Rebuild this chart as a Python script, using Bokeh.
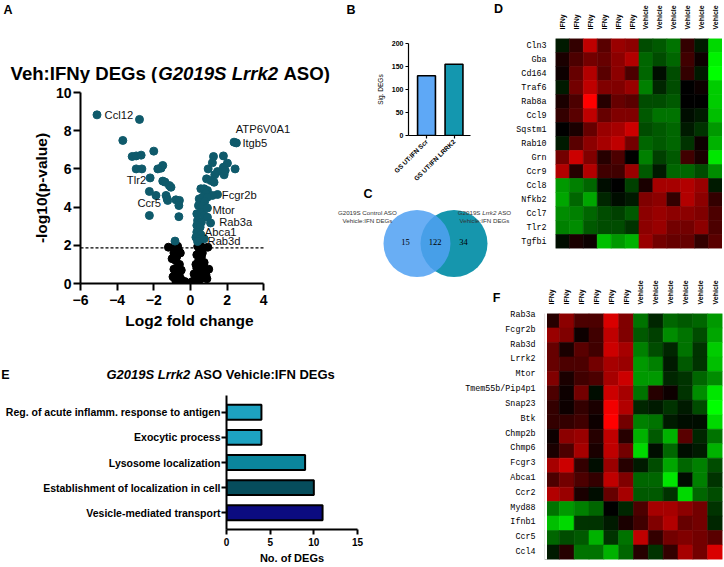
import math
from bokeh.plotting import figure
from bokeh.models import Range1d, FixedTicker, GridBox, ColumnDataSource
from bokeh.core.properties import value
from bokeh.embed import file_html
from bokeh.resources import INLINE

# ---------------- data ----------------
# A: volcano (log2 fold change, -log10 p)
sig_fc = [-5.1, -2.78, -3.69, -3.18, -2.96, -2.69, -2.0, -2.96, -2.65, -2.2, -1.6, -1.51, -1.78,
          -1.51, -1.39, -1.15, -1.06, -2.24, -1.88, -1.33, -1.27, -1.24, -0.79, -0.6, -0.63,
          -2.24, -0.63, -0.84,
          2.38, 2.51, 1.26, 1.80, 1.2, 2.02, 2.44, 0.97, 1.80, 1.48, 1.33, 1.84, 1.9, 0.88,
          1.11, 1.29, 0.57, 0.75, 0.93, 0.84, 1.48, 1.20, 0.48, 0.66, 0.93, 0.53, 0.78, 0.44,
          0.66, 0.35, 0.57, 0.75, 0.93, 0.39, 0.60, 1.1, 0.35, 0.53, 0.35, 0.57, 0.30, 0.48,
          0.39, 0.75, 0.93]
sig_p = [8.83, 8.59, 7.49, 6.65, 6.68, 6.72, 6.93, 6.0, 6.0, 5.53, 6.04, 6.18, 6.0,
         5.36, 5.31, 5.13, 5.04, 4.82, 4.61, 4.61, 4.43, 4.35, 4.38, 4.35, 4.08,
         3.56, 3.5, 2.22,
         7.4, 7.36, 6.65, 6.68, 6.32, 6.3, 6.0, 6.0, 6.09, 5.86, 5.69, 5.69, 5.92, 5.48,
         5.39, 5.30, 4.96, 4.96, 4.87, 4.70, 4.66, 4.61, 4.43, 4.52, 4.52, 4.26, 4.29, 4.08,
         4.05, 3.65, 3.73, 3.56, 3.47, 3.30, 3.21, 3.17, 3.04, 2.95, 2.69, 2.55, 2.42, 2.30,
         2.20, 2.34, 3.95]
ns_fc = [-1.2, -0.85, -0.7, -0.9, -0.75, -1.0, -0.8, -0.6, -0.75, -0.9, -0.5, -0.65, -0.95,
         -0.7, -0.5, -0.3, -0.8, -0.4, -0.2, -0.6, -0.55, -0.65,
         0.4, 0.55, 0.95, 0.7, 0.5, 0.35, 0.6, 0.45, 0.75, 0.3, 0.55, 1.0, 0.8, 0.4, 0.6,
         0.3, 0.7, 0.5, 0.25, 0.9, 0.15, 0.1, 0.35, 0.65, 0.85, 0.2]
ns_p = [1.9, 1.95, 1.95, 1.6, 1.4, 1.3, 1.2, 1.0, 0.8, 0.75, 0.7, 0.55, 0.35,
        0.3, 0.2, 0.1, 0.15, 0.05, 0.02, 0.4, 1.6, 1.75,
        1.95, 2.0, 1.9, 1.85, 1.7, 1.5, 1.4, 1.2, 1.1, 1.0, 0.9, 0.75, 0.7, 0.6, 0.5,
        0.35, 0.3, 0.2, 0.15, 0.25, 0.05, 0.1, 0.8, 1.6, 0.45, 0.5]
p_cutoff = 1.87
fc_bounds = (-6, 4)
lab_genes = ["Ccl12", "ATP6V0A1", "Itgb5", "Tlr2", "Ccr5", "Fcgr2b", "Mtor", "Rab3a", "Abca1", "Rab3d"]
lab_fc = [-5.1, 2.38, 2.51, -2.2, -1.24, 1.48, 0.93, 1.1, 0.57, 0.39]
lab_p = [8.83, 7.4, 7.36, 5.53, 4.35, 4.66, 3.95, 3.17, 2.55, 2.20]

# B: number of significant DEGs
b_groups = ["GS UT:IFN Scr", "GS UT:IFN LRRK2"]
b_degs = [130, 155]

# C: Venn counts (left only, shared, right only)
venn_counts = [15, 122, 34]

# D: heatmap
d_cols = ["IFNy"] * 6 + ["Vehicle"] * 6
d_genes = ["Cln3", "Gba", "Cd164", "Traf6", "Rab8a", "Ccl9", "Sqstm1", "Rab10", "Grn", "Ccr9",
           "Ccl8", "Nfkb2", "Ccl7", "Tlr2", "Tgfbi"]
d_vals = [
    [-0.1, 0.2, 0.75, 0.35, 0.6, 0.55, -0.3, -0.35, -0.45, 0.2, -0.1, -0.85],
    [0.1, 0.3, 0.45, 0.4, 0.55, 0.7, -0.4, -0.3, -0.4, 0.25, 0.05, -0.95],
    [0.05, 0.4, 0.7, 0.35, 0.55, 0.3, -0.4, -0.05, -0.3, 0.2, -0.1, -1.0],
    [-0.1, 0.45, 0.75, 0.5, 0.5, 0.6, -0.5, -0.15, -0.3, 0.0, 0.05, -0.8],
    [0.1, 0.3, 1.0, 0.15, 0.4, 0.35, -0.3, -0.3, -0.35, 0.0, 0.0, -0.8],
    [0.2, 0.35, 0.75, 0.4, 0.5, 0.5, -0.35, -0.45, -0.45, -0.05, -0.1, -0.75],
    [0.0, 0.1, 0.4, 0.6, 0.65, 0.8, -0.3, -0.35, -0.4, -0.1, -0.2, -0.6],
    [-0.1, 0.35, 0.55, 0.65, 0.75, 0.45, -0.4, -0.35, -0.4, -0.2, 0.05, -0.7],
    [0.45, 0.8, 0.5, 0.15, 0.3, 0.0, -0.5, -0.25, -0.35, 0.25, 0.1, -0.9],
    [0.7, 0.15, 0.7, 0.25, 0.25, 0.6, -0.35, -0.1, -0.4, -0.4, -0.3, -0.55],
    [-0.6, -0.5, -0.4, -0.05, 0.0, -0.25, 0.1, 0.65, 0.65, 0.7, 0.6, -0.1],
    [-0.65, -0.4, -0.65, -0.15, -0.05, -0.1, 0.5, 0.55, 0.2, 0.7, 0.55, 0.2],
    [-0.55, -0.5, -0.4, -0.3, -0.25, -0.35, 0.55, 0.6, 0.55, 0.55, 0.5, 0.3],
    [-0.5, -0.55, -0.35, -0.3, -0.3, -0.2, 0.55, 0.6, 0.45, 0.45, 0.55, 0.3],
    [-0.05, 0.1, 0.05, -0.75, -0.6, -0.7, 0.6, 0.45, 0.4, 0.4, 0.2, 0.35],
]

# E: GO terms
e_terms = ["Reg. of acute inflamm. response to antigen", "Exocytic process", "Lysosome localization",
           "Establishment of localization in cell", "Vesicle-mediated transport"]
e_counts = [4, 4, 9, 10, 11]

# F: heatmap
f_cols = ["IFNy"] * 6 + ["Vehicle"] * 6
f_genes = ["Rab3a", "Fcgr2b", "Rab3d", "Lrrk2", "Mtor", "Tmem55b/Pip4p1", "Snap23", "Btk", "Chmp2b",
           "Chmp6", "Fcgr3", "Abca1", "Ccr2", "Myd88", "Ifnb1", "Ccr5", "Ccl4"]
f_vals = [
    [0.15, 0.55, 0.3, 0.3, 0.85, 0.5, -0.45, -0.15, -0.4, -0.35, -0.4, -0.6],
    [0.6, 0.5, 0.05, 0.25, 0.75, 0.5, -0.35, -0.25, -0.55, -0.45, -0.3, -0.65],
    [0.4, 0.1, 0.35, 0.25, 0.8, 0.65, -0.5, -0.3, -0.15, -0.45, -0.2, -0.8],
    [0.4, 0.3, 0.3, 0.45, 0.65, 0.6, -0.6, -0.5, -0.1, -0.35, -0.2, -0.75],
    [0.5, 0.1, 0.25, 0.3, 0.65, 0.8, -0.6, -0.6, -0.15, -0.2, -0.4, -0.55],
    [0.3, 0.05, 0.45, -0.05, 0.8, 0.65, -0.45, 0.15, 0.05, -0.2, -0.55, -0.9],
    [0.2, 0.05, 0.2, 0.1, 0.95, 0.7, -0.15, -0.1, -0.2, -0.1, -0.3, -1.0],
    [0.2, 0.2, 0.25, 0.05, 1.0, 0.45, -0.5, -0.45, -0.1, -0.05, -0.05, -0.85],
    [0.05, 0.55, 0.6, 0.15, 0.75, 0.15, -0.7, -0.35, -0.7, 0.35, -0.15, -0.45],
    [0.1, 0.3, 0.65, 0.1, 0.75, 0.45, -0.85, -0.05, -0.4, -0.05, -0.1, -0.7],
    [0.65, 0.8, 0.2, -0.05, 0.6, 0.15, -0.1, -0.3, -0.65, -0.4, -0.5, -0.3],
    [0.3, 0.45, 0.3, 0.2, 0.75, 0.5, -0.4, -0.4, -0.9, -0.05, -0.5, -0.2],
    [0.7, 0.6, 0.1, -0.05, 0.4, 0.65, -0.35, -0.35, -0.2, -0.85, -0.4, -0.3],
    [-0.45, -0.6, -0.5, -0.4, 0.0, -0.15, 0.3, 0.65, 0.65, 0.55, 0.45, -0.2],
    [-0.75, -0.85, -0.2, -0.2, -0.1, 0.1, 0.25, 0.5, 0.7, 0.4, 0.45, -0.15],
    [-0.4, -0.3, -0.35, -0.7, -0.2, -0.45, 0.75, 0.2, 0.45, 0.5, 0.45, 0.35],
    [-0.1, 0.15, -0.45, -0.45, -0.7, -0.4, 0.15, -0.2, 0.2, 0.65, 0.45, 0.85],
]

# ---------------- layout helpers ----------------
FONT = "Liberation Sans"
pieces = []


def fs(v):
    return f"{v:.2f}px"


def make_fig(x0, x1, y0, y1, frame=None, **kw):
    if frame is None:
        frame = (x0, y0, x1, y1)
    fl, ft, fr, fb = [round(v) for v in frame]
    p = figure(width=x1 - x0, height=y1 - y0, min_border_left=fl - x0, min_border_right=x1 - fr,
               min_border_top=ft - y0, min_border_bottom=y1 - fb,
               output_backend="svg", toolbar_location=None, **kw)
    p.outline_line_color = None
    p.xgrid.visible = False
    p.ygrid.visible = False
    p.background_fill_color = "white"
    p.border_fill_color = "white"
    pieces.append((p, x0, x1, y0, y1))
    return p, (fl, ft, fr, fb)


def text_fig(x0, x1, y0, y1):
    # a figure whose frame is the whole piece; data units = page pixels
    p, _ = make_fig(x0, x1, y0, y1, None, x_range=Range1d(x0, x1), y_range=Range1d(y1, y0))
    p.xaxis.visible = False
    p.yaxis.visible = False
    return p


def add_text(p, x, y, text, size, style="bold", align="left", font=FONT, color="black"):
    p.text(x=[x], y=[y], text=[text], text_font=value(font), text_font_size=fs(size),
           text_font_style=style, text_align=align, text_baseline="middle", text_color=color)


def style_axis(ax, lw, tick_out, lab_size, lab_style="bold", title_size=None):
    ax.axis_line_width = lw
    ax.axis_line_color = "black"
    ax.major_tick_line_width = lw
    ax.major_tick_line_color = "black"
    ax.major_tick_out = tick_out
    ax.major_tick_in = 0
    ax.minor_tick_out = 0
    ax.minor_tick_in = 0
    ax.major_label_text_font = FONT
    ax.major_label_text_font_style = lab_style
    ax.major_label_text_font_size = fs(lab_size)
    ax.major_label_text_color = "black"
    if title_size:
        ax.axis_label_text_font = FONT
        ax.axis_label_text_font_style = "bold"
        ax.axis_label_text_font_size = fs(title_size)
        ax.axis_label_text_color = "black"


def heat_color(v):
    v = max(-1.0, min(1.0, v))
    if v >= 0:
        return "#%02x0000" % round(v * 255)
    return "#00%02x00" % round(-v * 255)


def style_gene_axis(ax, n, genes):
    ax.axis_line_color = None
    ax.major_tick_line_color = None
    ax.minor_tick_line_color = None
    ax.major_label_standoff = 3
    ax.major_label_text_color = "black"
    ax.ticker = FixedTicker(ticks=list(range(n)))
    ax.major_label_overrides = {n - 1 - i: g for i, g in enumerate(genes)}
    ax.major_label_text_font = "Liberation Mono"
    ax.major_label_text_font_size = fs(8.4)


def heatmap(x0, x1, y0, y1, frame, genes, vals, cols, show_genes=True):
    n, m = len(genes), len(cols)
    kw = {} if show_genes else {"y_axis_location": None}
    p, fr = make_fig(x0, x1, y0, y1, frame, x_range=Range1d(-0.5, m - 0.5),
                     y_range=Range1d(-0.5, n - 0.5), x_axis_location="above", **kw)
    xs, ys, cs = [], [], []
    for i, row in enumerate(vals):
        for j, v in enumerate(row):
            xs.append(j)
            ys.append(n - 1 - i)
            cs.append(heat_color(v))
    src = ColumnDataSource(dict(x=xs, y=ys, c=cs))
    p.rect(x="x", y="y", width=1, height=1, source=src, fill_color="c", line_color="c", line_width=0.6)
    ax = p.xaxis[0]
    ax.axis_line_color = None
    ax.major_tick_line_color = None
    ax.minor_tick_line_color = None
    ax.major_label_standoff = 3
    ax.major_label_text_color = "black"
    ax.ticker = FixedTicker(ticks=list(range(m)))
    ax.major_label_overrides = {j: cols[j] for j in range(m)}
    ax.major_label_orientation = math.pi / 2
    ax.major_label_text_font = FONT
    ax.major_label_text_font_style = "bold"
    ax.major_label_text_font_size = fs(7)
    if show_genes:
        style_gene_axis(p.yaxis[0], n, genes)
    return p, fr


# ---------------- A: volcano ----------------
tA = text_fig(0, 334, 0, 83)
add_text(tA, 3, 9, "A", 12.5)
t_font = 18.6
ty = 72.5
x0 = 10
add_text(tA, x0, ty, "Veh:IFNy DEGs (", t_font)
x1 = x0 + 7.946 * t_font
add_text(tA, x1, ty, "G2019S Lrrk2", t_font, style="bold italic")
x2 = x1 + (6.448 + 0.278) * t_font
add_text(tA, x2, ty, "ASO)", t_font)

x_hi = 5.9
pxu = 18.4  # px per log2 unit in the reference frame
pA, frA = make_fig(1, 335, 83, 338, (80, 92, 263 + (x_hi - 4) * pxu, 283),
                   x_range=Range1d(-6, x_hi), y_range=Range1d(0, 10))
style_axis(pA.xaxis[0], 2, 7, 14, title_size=15.5)
style_axis(pA.yaxis[0], 2, 7, 14, title_size=15.5)
pA.xaxis.ticker = FixedTicker(ticks=[-6, -4, -2, 0, 2, 4])
pA.xaxis.bounds = fc_bounds
pA.yaxis.ticker = FixedTicker(ticks=[0, 2, 4, 6, 8, 10])
pA.xaxis.axis_label = "Log2 fold change"
pA.yaxis.axis_label = "-log10(p-value)"
pA.xaxis.major_label_standoff = 4
pA.yaxis.major_label_standoff = 2
pA.xaxis.axis_label_standoff = 4
pA.yaxis.axis_label_standoff = 3
pA.line(x=list(fc_bounds), y=[p_cutoff, p_cutoff], line_color="black", line_width=1.2, line_dash="3 2")
pA.scatter(ns_fc, ns_p, size=8, color="black")
pA.scatter(sig_fc, sig_p, size=8, color="#0f5a6b")

kx = (frA[2] - frA[0]) / (x_hi + 6)
ky = (frA[3] - frA[1]) / 10.0
lab_dx = [7.6, 1.7, 6, -4, -6.7, 4.3, 5, 8.6, 4, 10]
lab_dy = [0, 13.2, 0, -2.6, -2.3, -1, -1.7, 0.8, 2.6, 0]
lab_right = [False, False, False, True, True, False, False, False, False, False]
for right in (False, True):
    idx = [i for i in range(len(lab_genes)) if lab_right[i] == right]
    pA.text(x=[lab_fc[i] + lab_dx[i] / kx for i in idx], y=[lab_p[i] + lab_dy[i] / ky for i in idx],
            text=[lab_genes[i] for i in idx], text_font=value(FONT), text_font_size=fs(11.2),
            text_align="right" if right else "left", text_baseline="middle", text_color="#111111")

# ---------------- B: bar ----------------
tB = text_fig(337, 511, 0, 25)
add_text(tB, 346, 9, "B", 12.5)
add_text(tB, 498, 8, "D", 12.5, align="center")

pB, frB = make_fig(335, 513, 25, 187, (408, 43, 470, 136),
                   x_range=Range1d(-0.655, 1.6), y_range=Range1d(0, 200))
style_axis(pB.xaxis[0], 1.2, 3, 6.5)
style_axis(pB.yaxis[0], 1.2, 3, 7, title_size=6.5)
pB.yaxis.ticker = FixedTicker(ticks=[0, 50, 100, 150, 200])
pB.xaxis.ticker = FixedTicker(ticks=list(range(len(b_groups))))
pB.xaxis.major_label_overrides = {i: g for i, g in enumerate(b_groups)}
pB.xaxis.major_label_orientation = math.pi / 4
pB.yaxis.axis_label = "Sig. DEGs"
pB.yaxis.axis_label_text_font_style = "normal"
pB.yaxis.major_label_standoff = 2
pB.xaxis.major_label_standoff = 2
pB.vbar(x=list(range(len(b_groups))), top=b_degs, width=0.65, bottom=0,
        fill_color=["#5ea8f6", "#1497af"], line_color="black", line_width=1.6)

# ---------------- C: Venn ----------------
pC = text_fig(336, 512, 187, 277)
venn_r = 33.5
venn_cy = 243
venn_cx = [416.5, 453.5]
pC.circle(x=[venn_cx[1]], y=[venn_cy], radius=venn_r, fill_color="#1696ad", line_color=None)
pC.circle(x=[venn_cx[0]], y=[venn_cy], radius=venn_r, fill_color="#50a0f2", fill_alpha=0.855, line_color=None)
num_x = [venn_cx[0] - 11.5, (venn_cx[0] + venn_cx[1]) / 2 - 0.5, venn_cx[1] + 9.5]
pC.text(x=num_x, y=[venn_cy - 2] * 3, text=[str(c) for c in venn_counts],
        text_font=value("Liberation Serif"), text_font_size=fs(8.5), text_align="center",
        text_baseline="middle", text_color="black")
add_text(pC, 367.5, 193, "C", 12.5, align="center")
vfs = 6.2
vcol = "#333333"
add_text(pC, 367, 212, "G2019S Control ASO", vfs, style="normal", align="center", color=vcol)
add_text(pC, 367, 220, "Vehicle:IFN DEGs", vfs, style="normal", align="center", color=vcol)
rc = 484
w1, w2, w3 = 3.947 * vfs, 2.556 * vfs, 2.112 * vfs
rs = rc - (w1 + w2 + w3) / 2
add_text(pC, rs, 212, "G2019S", vfs, style="normal", color=vcol)
add_text(pC, rs + w1, 212, "Lrrk2", vfs, style="italic", color=vcol)
add_text(pC, rs + w1 + w2, 212, "ASO", vfs, style="normal", color=vcol)
add_text(pC, rc, 220, "Vehicle:IFN DEGs", vfs, style="normal", align="center", color=vcol)

# ---------------- D: heatmap ----------------
pD, frD = heatmap(513, 722, 2, 276, (548, 32, 722, 248), d_genes, d_vals, d_cols)

# ---------------- F: heatmap (labels in a narrow axis-only figure) ----------------
tF = text_fig(466, 543, 278, 306)
add_text(tF, 496, 297, "F", 12.5, align="center")
frF = (544, 307, 722, 559)
pFH, _ = heatmap(544, 723, 277, 565, frF, f_genes, f_vals, f_cols, show_genes=False)
pFL, _ = make_fig(465, 544, frF[1], 565, (543, frF[1], 544, frF[3]), x_range=Range1d(0, 1),
                  y_range=pFH.y_range, x_axis_location=None)
style_gene_axis(pFL.yaxis[0], len(f_genes), f_genes)

# ---------------- E: GO bars ----------------
tE = text_fig(0, 364, 338, 384)
add_text(tE, 5, 374.5, "E", 12.5, align="center")
e_font = 13
ex0 = 106
add_text(tE, ex0, 374, "G2019S Lrrk2", e_font, style="bold italic")
add_text(tE, ex0 + 6.726 * e_font, 374, "ASO Vehicle:IFN DEGs", e_font)

ne = len(e_terms)
pE, frE = make_fig(2, 365, 384, 566, (220, 395, 357, 531), x_range=Range1d(0, 15),
                   y_range=Range1d(-0.667, ne - 1 + 0.667))
style_axis(pE.xaxis[0], 2, 5, 10, title_size=11)
style_axis(pE.yaxis[0], 2, 5, 10.5)
pE.xaxis.ticker = FixedTicker(ticks=[0, 5, 10, 15])
pE.yaxis.ticker = FixedTicker(ticks=list(range(ne)))
pE.yaxis.major_label_overrides = {ne - 1 - i: t for i, t in enumerate(e_terms)}
pE.xaxis.axis_label = "No. of DEGs"
pE.xaxis.major_label_standoff = 3
pE.xaxis.axis_label_standoff = 3
pE.yaxis.major_label_standoff = 1
pE.hbar(y=[ne - 1 - i for i in range(ne)], right=e_counts, left=0, height=0.59,
        fill_color=["#1da2c1", "#1da2c1", "#0b859c", "#064d5c", "#0b0b80"],
        line_color="black", line_width=2)

# ---------------- grid (each plot edge on its own grid line) ----------------
XL = sorted({v for _, a, b, _, _ in pieces for v in (a, b)})
YL = sorted({v for _, _, _, a, b in pieces for v in (a, b)})
children = []
for p, a, b, c, d in pieces:
    ci, cj = XL.index(a), XL.index(b)
    ri, rj = YL.index(c), YL.index(d)
    children.append((p, ri, ci, rj - ri, cj - ci))
grid = GridBox(children=children,
               rows=[f"{YL[i + 1] - YL[i]}px" for i in range(len(YL) - 1)],
               cols=[f"{XL[i + 1] - XL[i]}px" for i in range(len(XL) - 1)],
               spacing=0)

open("out.html", "w").write(file_html(grid, INLINE))
